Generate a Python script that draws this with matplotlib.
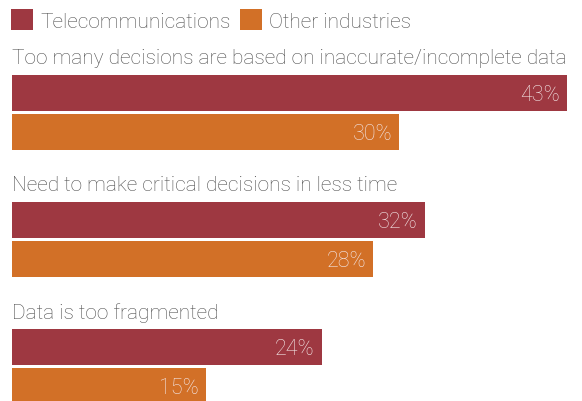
import matplotlib.pyplot as plt

categories = ['Too many decisions are based on inaccurate/incomplete data',
              'Need to make critical decisions in less time',
              'Data is too fragmented']
telecom = [43, 32, 24]
other = [30, 28, 15]
series_names = ['Telecommunications', 'Other industries']

red = '#9e3841'
orange = '#d27027'
grey = '#4d4d4d'
font = 'Roboto'

fig = plt.figure(figsize=(5.82, 4.02), dpi=100)
ax = fig.add_axes([12 / 582, 0, 555 / 582, 1])

# one y unit = one bar row
start, period = 2.4, 3.26
y1 = [start + i * period for i in range(len(categories))]
y2 = [y + 1 for y in y1]

b1 = ax.barh(y1, telecom, height=0.92, color=red, label=series_names[0])
b2 = ax.barh(y2, other, height=0.92, color=orange, label=series_names[1])

for bars, vals in ((b1, telecom), (b2, other)):
    for bar, v in zip(bars, vals):
        ax.text(v - 0.55, bar.get_y() + bar.get_height() / 2 + 0.05, f'{v}%',
                ha='right', va='center', color='#f3e6e6', fontsize=15.5,
                family=font, fontweight='light')

for y, cat in zip(y1, categories):
    ax.text(0, y - 0.9, cat, ha='left', va='center', color=grey,
            fontsize=15, family=font, fontweight='light')

ax.set_xlim(0, 43)
ax.set_ylim(402 / 39, 0)
ax.axis('off')

fig.legend(handles=[b1, b2], labels=series_names, loc='upper left',
           bbox_to_anchor=(5 / 582, 1 - 4 / 402), ncol=2, frameon=False,
           handlelength=1.05, handleheight=1.15, handletextpad=0.35,
           columnspacing=0.45, borderaxespad=0, borderpad=0.3,
           prop={'family': font, 'weight': 'light', 'size': 15},
           labelcolor=grey)

fig.savefig('out.png', dpi=100)
